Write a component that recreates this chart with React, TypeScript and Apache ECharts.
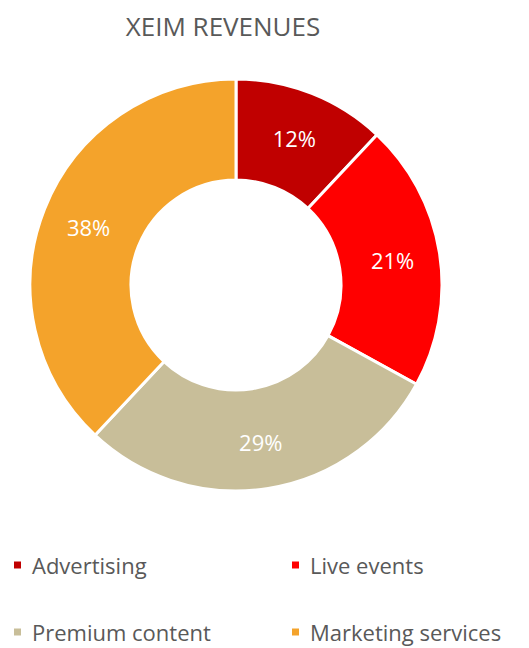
import React, { useEffect, useRef } from "react";
import * as echarts from "echarts";

const categories = ["Advertising", "Live events", "Premium content", "Marketing services"];
const values = [12, 21, 29, 38];
const colors = ["#C00000", "#FF0000", "#C8BE99", "#F4A32B"];
const titleText = "XEIM REVENUES";

const FONT = "'Open Sans', 'Noto Sans', sans-serif";

export default function App() {
  const ref = useRef<HTMLDivElement>(null);
  useEffect(() => {
    if (!ref.current) return;
    const chart = echarts.init(ref.current, undefined, { renderer: "svg" });
    const legendPos = [
      { left: 4, top: 546 },
      { left: 282, top: 546 },
      { left: 4, top: 613 },
      { left: 282, top: 613 },
    ];
    chart.setOption({
      animation: false,
      color: colors,
      title: {
        text: titleText,
        left: 215,
        top: 3,
        padding: 0,
        textAlign: "center",
        textStyle: { fontFamily: FONT, fontSize: 26, lineHeight: 30, fontWeight: "normal", color: "#595959" },
      },
      legend: categories.map((c, i) => ({
        data: [c],
        left: legendPos[i].left,
        top: legendPos[i].top,
        padding: 0,
        icon: "rect",
        itemWidth: 9,
        itemHeight: 9,
        itemGap: 10,
        textStyle: { fontFamily: FONT, fontSize: 22, color: "#595959", padding: [0, 0, 0, 5] },
      })),
      series: [
        {
          type: "pie",
          center: [228, 277],
          radius: [105, 206],
          startAngle: 90,
          clockwise: true,
          avoidLabelOverlap: false,
          itemStyle: { borderColor: "#ffffff", borderWidth: 3 },
          label: {
            show: true,
            position: "inside",
            formatter: "{c}%",
            color: "#ffffff",
            fontFamily: FONT,
            fontSize: 22,
          },
          labelLine: { show: false },
          emphasis: { disabled: true },
          data: categories.map((c, i) => ({ name: c, value: values[i] })),
        },
      ],
    });
    return () => chart.dispose();
  }, []);
  return <div ref={ref} style={{ width: 521, height: 640 }} />;
}
